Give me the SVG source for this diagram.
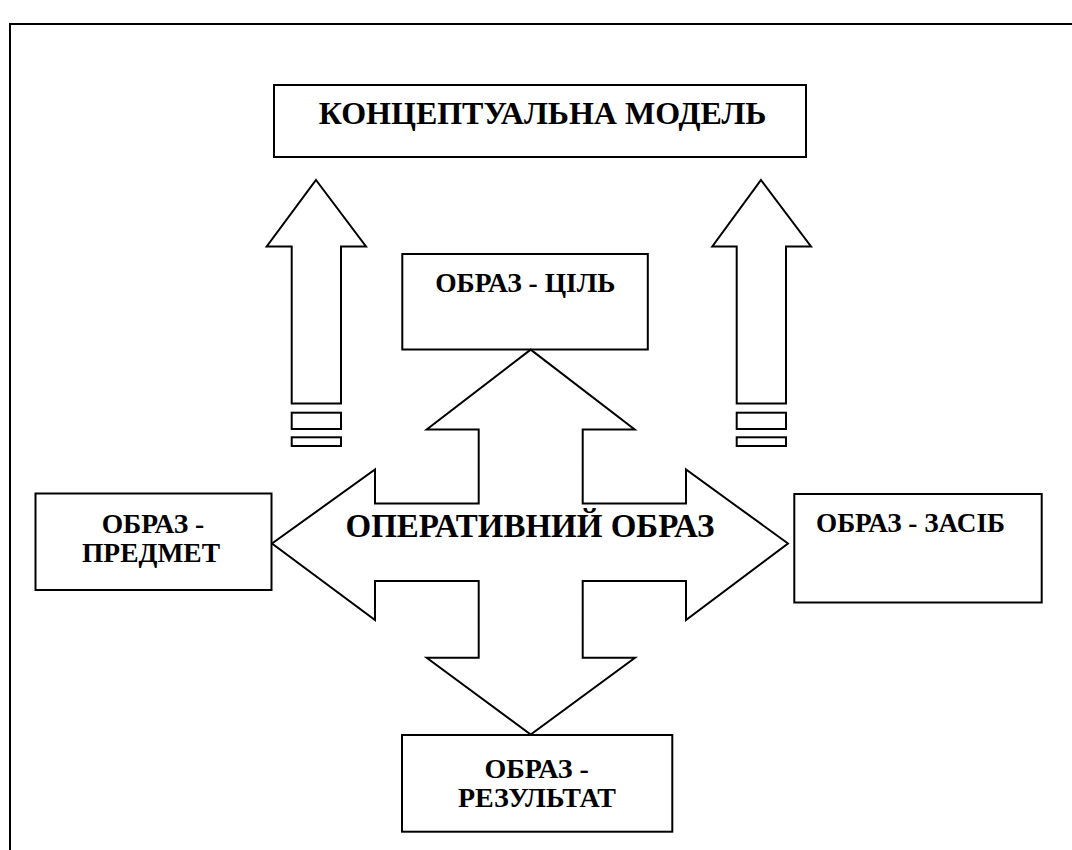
<svg xmlns="http://www.w3.org/2000/svg" width="1072" height="850" viewBox="0 0 1072 850">
<style>
.box{fill:#fff;stroke:#000;stroke-width:2}
.shape{fill:#fff;stroke:#000;stroke-width:2;stroke-linejoin:miter}
.t{font-family:"Liberation Serif","Times New Roman",serif;font-weight:bold;fill:#000}
.c{text-anchor:middle}
</style>
<rect width="1072" height="850" fill="#fff"/>
<rect id="frame" x="10" y="24" width="1100" height="900" fill="none" stroke="#000" stroke-width="2"/>
<g id="connectors">
<g id="arrow-left-up">
<polygon class="shape" points="316,180 366,246.5 341,246.5 341,403.5 291.7,403.5 291.7,246.5 266.7,246.5"/>
<rect class="shape" x="291.7" y="412.7" width="49.3" height="16.3"/>
<rect class="shape" x="291.7" y="437.3" width="49.3" height="8.7"/>
</g>
<g id="arrow-right-up">
<polygon class="shape" points="761,180 811,246.5 786,246.5 786,403.5 736.7,403.5 736.7,246.5 712.3,246.5"/>
<rect class="shape" x="736.7" y="412.7" width="49.3" height="16.3"/>
<rect class="shape" x="736.7" y="437.3" width="49.3" height="8.7"/>
</g>
</g>
<g id="node-model">
<rect class="box" x="274" y="85" width="532" height="72"/>
<text class="t c" x="542.6" y="124" font-size="32">КОНЦЕПТУАЛЬНА МОДЕЛЬ</text>
</g>
<g id="node-goal">
<rect class="box" x="402.3" y="254" width="245.5" height="95.5"/>
<text class="t c" x="525.3" y="292.3" font-size="27.5">ОБРАЗ - ЦІЛЬ</text>
</g>
<g id="node-operative">
<polygon class="shape" points="530.7,349.6 634.7,429.5 582.7,429.5 582.7,503.5 686,503.5 686,469.5 788,543.5 686,620 686,581 582.7,581 582.7,657.7 635,657.7 530.7,734.5 426.7,657.7 478.7,657.7 478.7,581 375,581 375,620 272,543.5 375,469.5 375,503.5 478.7,503.5 478.7,429.5 426.7,429.5"/>
<text class="t c" x="530" y="537" font-size="33">ОПЕРАТИВНИЙ ОБРАЗ</text>
</g>
<g id="node-subject">
<rect class="box" x="35.5" y="493.5" width="236" height="96.5"/>
<text class="t c" x="153" y="532.7" font-size="27.5">ОБРАЗ -</text>
<text class="t c" x="151" y="562.3" font-size="27.5">ПРЕДМЕТ</text>
</g>
<g id="node-means">
<rect class="box" x="794.3" y="494" width="247.4" height="108.5"/>
<text class="t" x="816" y="531.7" font-size="27.2">ОБРАЗ - ЗАСІБ</text>
</g>
<g id="node-result">
<rect class="box" x="402" y="735" width="270.3" height="96.7"/>
<text class="t c" x="536.7" y="778.3" font-size="28">ОБРАЗ -</text>
<text class="t c" x="537" y="807.3" font-size="28">РЕЗУЛЬТАТ</text>
</g>
</svg>
